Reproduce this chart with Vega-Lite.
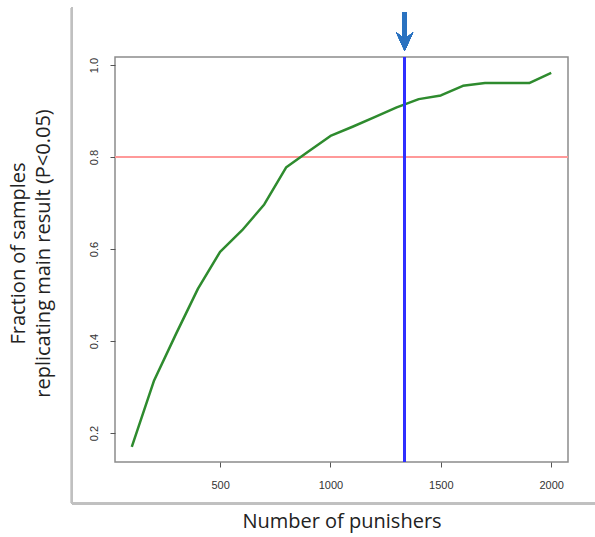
{
  "$schema": "https://vega.github.io/schema/vega-lite/v6.json",
  "width": 453,
  "height": 405,
  "autosize": {"type": "none"},
  "padding": {"left": 115, "top": 57, "right": 27, "bottom": 75},
  "background": "white",
  "config": {
    "view": {"stroke": "#8c8c8c", "strokeWidth": 1.5},
    "axis": {"labelFont": "Liberation Sans", "titleFont": "Open Sans", "titleFontWeight": "normal"}
  },
  "data": {
    "values": [
      {"n": 100, "frac": 0.170},
      {"n": 200, "frac": 0.313},
      {"n": 300, "frac": 0.415},
      {"n": 400, "frac": 0.514},
      {"n": 500, "frac": 0.594},
      {"n": 600, "frac": 0.641},
      {"n": 700, "frac": 0.697},
      {"n": 800, "frac": 0.778},
      {"n": 900, "frac": 0.812},
      {"n": 1000, "frac": 0.846},
      {"n": 1100, "frac": 0.866},
      {"n": 1200, "frac": 0.887},
      {"n": 1300, "frac": 0.908},
      {"n": 1400, "frac": 0.926},
      {"n": 1500, "frac": 0.934},
      {"n": 1600, "frac": 0.955},
      {"n": 1700, "frac": 0.961},
      {"n": 1800, "frac": 0.961},
      {"n": 1900, "frac": 0.961},
      {"n": 2000, "frac": 0.983}
    ]
  },
  "layer": [
    {
      "mark": {"type": "rule", "color": "#ff9999", "strokeWidth": 2},
      "encoding": {"y": {"datum": 0.8, "type": "quantitative"}}
    },
    {
      "mark": {"type": "line", "color": "#2e8b2e", "strokeWidth": 2.5, "strokeJoin": "round"},
      "encoding": {
        "x": {
          "field": "n", "type": "quantitative",
          "scale": {"domain": [24, 2076], "nice": false, "zero": false},
          "axis": {
            "values": [500, 1000, 1500, 2000], "format": "d", "domain": false, "grid": false,
            "tickColor": "#555", "tickSize": 5, "tickWidth": 1,
            "labelFontSize": 11, "labelColor": "#333", "labelPadding": 12,
            "title": "Number of punishers", "titleFontSize": 20, "titleColor": "#222", "titlePadding": 21
          }
        },
        "y": {
          "field": "frac", "type": "quantitative",
          "scale": {"domain": [0.137, 1.0176], "nice": false, "zero": false},
          "axis": {
            "values": [0.2, 0.4, 0.6, 0.8, 1.0], "format": ".1f", "domain": false, "grid": false,
            "tickColor": "#555", "tickSize": 5, "tickWidth": 1,
            "labelFontSize": 11, "labelColor": "#333", "labelPadding": 11,
            "labelAngle": -90, "labelAlign": "center", "labelBaseline": "bottom",
            "title": ["Fraction of samples", "replicating main result (P<0.05)"],
            "titleFontSize": 20, "titleColor": "#222", "titlePadding": 35, "titleLineHeight": 25,
            "titleY": 196
          }
        }
      }
    },
    {
      "mark": {"type": "rule", "color": "#3030ff", "strokeWidth": 2},
      "encoding": {"x": {"datum": 1336, "type": "quantitative"}}
    },
    {
      "mark": {"type": "rule", "color": "#c0c0c0", "strokeWidth": 2},
      "encoding": {
        "x": {"datum": -171, "type": "quantitative"},
        "y": {"datum": 1.125, "type": "quantitative"},
        "y2": {"datum": 0.0473}
      }
    },
    {
      "mark": {"type": "rule", "color": "#c0c0c0", "strokeWidth": 2},
      "encoding": {
        "y": {"datum": 0.0473, "type": "quantitative"},
        "x": {"datum": -171, "type": "quantitative"},
        "x2": {"datum": 2210}
      }
    },
    {
      "mark": {"type": "rule", "color": "#2a72c0", "strokeWidth": 4},
      "encoding": {
        "x": {"datum": 1336, "type": "quantitative"},
        "y": {"datum": 1.115, "type": "quantitative"},
        "y2": {"datum": 1.06}
      }
    },
    {
      "mark": {"type": "point", "filled": true, "color": "#2a72c0", "opacity": 1, "size": 289,
               "shape": "M -1 -1.1 L 0 1.1 L 1 -1.1 L 0 -0.3 Z"},
      "encoding": {
        "x": {"datum": 1336, "type": "quantitative"},
        "y": {"datum": 1.051, "type": "quantitative"}
      }
    }
  ]
}
